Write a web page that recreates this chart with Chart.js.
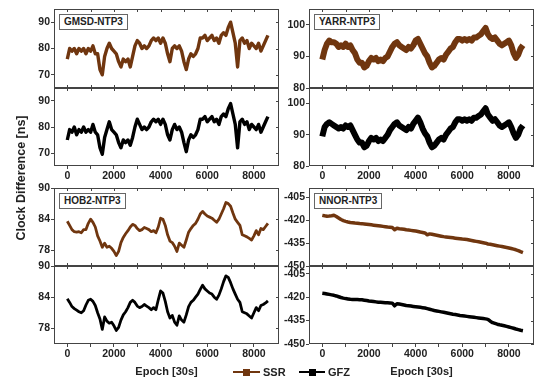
<!DOCTYPE html>
<html><head><meta charset="utf-8">
<script src="https://cdn.jsdelivr.net/npm/chart.js@4.4.1/dist/chart.umd.min.js"></script>
<style>
html,body{margin:0;padding:0;background:#fff;}
#wrap{position:relative;width:550px;height:388px;overflow:hidden;font-family:"Liberation Sans",Arial,sans-serif;}
canvas{position:absolute;}
.tag{position:absolute;border:1px solid #666;background:#fff;font:bold 10px "Liberation Sans",Arial,sans-serif;color:#222;line-height:14px;padding:0 4px;white-space:nowrap;}
.abs{position:absolute;}
.lt{position:absolute;font:bold 11px "Liberation Sans",Arial,sans-serif;color:#222;line-height:14px;white-space:nowrap;}
#ytitle{position:absolute;left:-78px;top:170px;width:200px;height:16px;line-height:16px;text-align:center;transform:rotate(-90deg);font:bold 12.5px "Liberation Sans",Arial,sans-serif;color:#222;white-space:nowrap;}
</style></head>
<body><div id="wrap">
<div id="ytitle">Clock Difference [ns]</div>
<div class="abs" style="left:233px;top:371px;width:27px;height:1.5px;background:#70360f"></div>
<div class="abs" style="left:243px;top:368.5px;width:7px;height:7px;background:#70360f"></div>
<div class="lt" style="left:263px;top:365px">SSR</div>
<div class="abs" style="left:299px;top:371px;width:26px;height:1.5px;background:#000"></div>
<div class="abs" style="left:308.5px;top:368.5px;width:7px;height:7px;background:#000"></div>
<div class="lt" style="left:328px;top:365px">GFZ</div>
</div>
<script>
const epochs = [0,100,200,300,400,500,600,700,800,900,
1000,1100,1200,1300,1400,1500,1600,1700,1800,1900,
2000,2100,2200,2300,2400,2500,2600,2700,2800,2900,
3000,3100,3200,3300,3400,3500,3600,3700,3800,3900,
4000,4100,4200,4300,4400,4500,4600,4700,4800,4900,
5000,5100,5200,5300,5400,5500,5600,5700,5800,5900,
6000,6100,6200,6300,6400,6500,6600,6700,6800,6900,
7000,7100,7200,7300,7400,7500,7600,7700,7800,7900,
8000,8100,8200,8300,8400,8500,8600];

const gmsdSSR = [76,80,79,80,78,80,79,80,78,80,
79,81,78,78,72,70,77,80,82,80,
79,78,75,73,76,75,76,73,77,81,
83,82,80,81,80,81,83,84,83,84,
82,84,82,78,75,80,81,80,81,79,
75,72,76,78,77,78,80,84,84,85,
83,84,85,83,84,82,85,86,85,88,
90,86,82,73,83,84,82,83,80,82,
81,80,82,79,81,83,85];
const gmsdGFZ = [75,79,78,80,77,79,78,80,78,79,
78,81,78,77,72,69.5,76,79,82,79,
78,77,74,72,75,74,75,73,76,80,
83,81,79,80,79,80,82,83,82,83,
81,83,81,77,75,79,81,79,80,78,
74,70.5,75,77,76,77,79,83,83,84,
82,83,84,82,83,81,84,85,84,87,
89,85,81,72,82,83,81,82,79,81,
80,79,81,78,80,82,84];
const yarrSSR = [89,92,94,95,94.5,94.5,94,93,93.5,93,
94,93,93.5,92,91,89,88,88,86.5,87,
88.5,89.5,89,89.5,88.5,89,88.5,89.5,90,91.5,
93,94,94.5,93.5,93,92.5,92,93,92.5,93.5,
95,95.5,94,92.5,91,90,88,86.5,87,88,
89,89.5,89,90.5,91.5,92.5,93,94.5,95.5,95.5,
95,95.5,95,95.5,95,96,96,96.5,97,98,
99,97,96,95.5,96,95,94,93.5,94,94.5,
95,93.5,91,89.5,90.5,92.5,93.5];
const yarrGFZ = [89.5,92.5,93.5,94,93.5,93,92.5,92,92.5,92,
93,92.5,93,91.5,90,88.5,87.5,87.5,86,86.5,
88,89,88.5,89,88,88.5,88,89,90,91.5,
92.5,93.5,94,93,92.5,92,91.5,92.5,92,93.5,
94.5,95.5,94,92,90.5,89.5,87.5,86,86.5,87.5,
88.5,89,88.5,90,91,92,92.5,94,95,95,
94.5,95,94.5,95,94.5,95.5,95.5,96,96.5,97.5,
98.5,96.5,95.5,94.5,95,94,93,92.5,93,93.5,
94,92.5,90.5,89,90,92,93];
const hob2SSR = [83.6,82.8,82.0,81.6,81.5,81.6,81.4,82.0,82.0,83.2,
84.0,83.4,82.5,80.8,79.8,78.6,79.4,78.6,78.8,78.4,
77.8,77.0,77.8,79.5,80.5,81.2,81.8,82.5,83.0,82.8,
82.2,81.8,82.0,82.4,82.2,82.0,81.6,81.8,81.4,82.5,
84.2,84.0,82.8,81.0,79.8,79.5,78.8,77.8,79.4,79.0,
78.6,80.0,81.5,82.2,82.8,83.2,84.0,85.0,85.5,85.0,
84.6,84.4,84.2,83.8,83.4,84.0,85.0,86.0,87.2,87.0,
86.5,85.2,84.0,83.4,82.8,81.0,80.8,80.6,80.3,80.0,
80.8,81.8,81.0,82.2,82.0,82.6,83.2];
const hob2GFZ = [83.7,83.0,82.2,81.8,81.5,81.2,81.0,81.4,82.5,83.4,
83.6,83.2,82.4,81.0,79.8,77.8,80.2,79.4,79.0,79.2,
78.5,77.6,78.2,79.6,80.6,81.2,82.0,83.0,83.4,83.0,
82.3,82.0,82.2,82.6,82.3,82.0,81.6,82.0,81.6,83.5,
85.2,84.8,83.2,81.2,80.0,80.5,79.2,78.6,80.4,79.6,
79.2,80.6,82.2,83.0,83.4,84.0,84.6,85.5,86.3,85.6,
85.2,84.8,84.6,84.0,83.6,84.4,85.6,87.0,88.1,87.8,
86.8,85.6,84.6,83.6,83.0,81.2,81.0,80.8,80.4,80.0,
81.0,82.0,81.4,82.4,82.6,82.9,83.3];
const nnorSSR = [-416.9,-417.2,-417.4,-417.3,-417.1,-416.8,-417.6,-418.6,-419.6,-420.3,
-420.8,-421.2,-421.5,-421.7,-421.9,-422.0,-422.2,-422.3,-422.5,-422.7,
-422.9,-423.1,-423.3,-423.5,-423.7,-423.9,-424.1,-424.3,-424.5,-424.6,
-424.8,-426.3,-425.3,-425.6,-425.8,-426.0,-426.3,-426.5,-426.7,-426.9,
-427.1,-427.4,-427.8,-428.1,-428.4,-429.6,-429.0,-429.3,-429.6,-429.9,
-430.2,-430.5,-430.8,-431.0,-431.2,-431.4,-431.6,-431.8,-432.0,-432.2,
-432.4,-432.5,-432.7,-433.0,-433.3,-433.6,-433.9,-434.2,-434.5,-434.8,
-435.1,-435.6,-435.8,-436.1,-436.4,-436.7,-437.0,-437.3,-437.6,-437.9,
-438.2,-438.6,-439.0,-439.4,-439.9,-440.6,-441.2];
const nnorGFZ = [-417.4,-417.6,-417.9,-418.2,-418.5,-418.8,-419.2,-419.7,-420.2,-420.6,
-420.9,-421.1,-421.3,-421.4,-421.5,-421.5,-421.6,-421.7,-421.9,-422.1,
-422.4,-422.6,-422.8,-423.0,-423.2,-423.3,-423.4,-423.5,-423.6,-423.7,
-423.8,-425.5,-424.2,-424.4,-424.7,-425.0,-425.3,-425.5,-425.7,-425.9,
-426.1,-426.3,-426.5,-426.7,-426.9,-427.3,-427.7,-428.1,-428.5,-428.8,
-429.1,-429.4,-429.7,-430.0,-430.3,-430.6,-430.9,-431.1,-431.4,-431.7,
-431.9,-432.1,-432.3,-432.5,-432.7,-432.9,-433.1,-433.3,-433.5,-433.7,
-433.9,-434.2,-435.4,-436.3,-436.8,-437.3,-437.7,-438.0,-438.3,-438.7,
-439.1,-439.5,-439.9,-440.4,-440.8,-441.2,-441.5];

const xTicks = [0,1000,2000,3000,4000,5000,6000,7000,8000];
const gmsdTicks = [70,80,90];
const yarrTicks = [80,90,100];
const hob2Ticks = [78,84,90];
const nnorTicks = [-405,-420,-435,-450];
const seriesNames = ['SSR','GFZ'];
const ssrColor = '#70360f', gfzColor = '#000000';

const wrap = document.getElementById('wrap');
const FONT = '"Liberation Sans", Arial, sans-serif';
const axisColor = '#444';
const textColor = '#222';

function framePlugin(lower){
  return {
    id:'frame',
    afterDraw(chart){
      const {ctx, chartArea:a, scales:{x, y}} = chart;
      ctx.save();
      ctx.strokeStyle = axisColor; ctx.lineWidth = 1;
      ctx.strokeRect(a.left+0.5, a.top+0.5, a.right-a.left-1, a.bottom-a.top-1);
      ctx.beginPath();
      x.ticks.forEach(t => {
        const px = Math.round(x.getPixelForValue(t.value)) + 0.5;
        ctx.moveTo(px, a.top); ctx.lineTo(px, a.top+3);
        if(!lower){ ctx.moveTo(px, a.bottom); ctx.lineTo(px, a.bottom-3); }
      });
      y.ticks.forEach(t => {
        const py = Math.round(y.getPixelForValue(t.value)) + 0.5;
        ctx.moveTo(a.right, py); ctx.lineTo(a.right-3, py);
      });
      ctx.stroke();
      ctx.restore();
    }
  };
}

function make(rect, series, name, color, lw, yMin, yMax, yTicks, lower, xTitle){
  const padL = 44, padT = 8, padR = 6;
  const xh = lower ? (xTitle ? 35 : 20) : 8;
  const w = rect.R - rect.L + padL + padR;
  const h = rect.B - rect.T + padT + xh;
  const cv = document.createElement('canvas');
  cv.width = w; cv.height = h;
  cv.style.left = (rect.L - padL) + 'px';
  cv.style.top = (rect.T - padT) + 'px';
  cv.style.width = w + 'px'; cv.style.height = h + 'px';
  wrap.insertBefore(cv, wrap.firstChild);
  new Chart(cv, {
    type: 'line',
    data: { datasets: [{ label: name, data: epochs.map((e,i) => ({x:e, y:series[i]})),
      borderColor: color, backgroundColor: color, borderWidth: lw, pointRadius: 0, tension: 0, fill: false,
      borderJoinStyle: 'round' }] },
    options: {
      responsive: false, animation: false, events: [],
      layout: { padding: { left: 0, top: padT, right: padR, bottom: 0 } },
      plugins: { legend: { display: false }, tooltip: { enabled: false } },
      scales: {
        x: {
          type: 'linear', min: -570, max: 9075,
          afterBuildTicks: s => { s.ticks = xTicks.map(v => ({value: v})); },
          afterFit: s => { s.height = xh; },
          ticks: { display: lower, autoSkip: false, maxRotation: 0, padding: 1, color: textColor,
                   font: { family: FONT, size: 10.5, weight: 'bold' },
                   callback: v => (v % 2000 === 0 ? String(v) : '') },
          grid: { display: lower, drawOnChartArea: false, drawTicks: true, tickLength: 3, color: axisColor },
          border: { display: false },
          title: { display: !!xTitle, text: xTitle || '', color: textColor, padding: { top: 0, bottom: 0 },
                   font: { family: FONT, size: 11, weight: 'bold' } }
        },
        y: {
          min: yMin, max: yMax,
          afterBuildTicks: s => { s.ticks = yTicks.map(v => ({value: v})); },
          afterFit: s => { s.width = padL; },
          ticks: { padding: 1, color: textColor, font: { family: FONT, size: 10.5, weight: 'bold' },
                   callback: v => String(v) },
          grid: { drawOnChartArea: false, drawTicks: true, tickLength: 3, color: axisColor },
          border: { display: false }
        }
      }
    },
    plugins: [framePlugin(lower)]
  });
}

function tag(text, rect){
  const d = document.createElement('div');
  d.className = 'tag'; d.textContent = text;
  d.style.left = (rect.L + 5) + 'px'; d.style.top = (rect.T + 5) + 'px';
  wrap.appendChild(d);
}

const LL = 54, LR = 279, RL = 309, RR = 534;
const r1U = {T:9, B:88}, r1D = {T:88, B:166}, r2U = {T:188, B:266}, r2D = {T:266, B:344};
const R = (c, r) => ({L: c[0], R: c[1], T: r.T, B: r.B});
const left = [LL, LR], right = [RL, RR];

make(R(left, r1U), gmsdSSR, seriesNames[0], ssrColor, 3.4, 65, 95, gmsdTicks, false, null);
make(R(left, r1D), gmsdGFZ, seriesNames[1], gfzColor, 3.4, 65, 95, gmsdTicks, true, null);
make(R(right, r1U), yarrSSR, seriesNames[0], ssrColor, 6, 80, 105, yarrTicks, false, null);
make(R(right, r1D), yarrGFZ, seriesNames[1], gfzColor, 6, 80, 105, yarrTicks, true, null);
make(R(left, r2U), hob2SSR, seriesNames[0], ssrColor, 2.8, 75, 90, hob2Ticks, false, null);
make(R(left, r2D), hob2GFZ, seriesNames[1], gfzColor, 2.8, 75, 90, hob2Ticks, true, 'Epoch [30s]');
make(R(right, r2U), nnorSSR, seriesNames[0], ssrColor, 3.5, -450, -399, nnorTicks, false, null);
make(R(right, r2D), nnorGFZ, seriesNames[1], gfzColor, 3.5, -450, -400, nnorTicks, true, 'Epoch [30s]');

tag('GMSD-NTP3', R(left, r1U));
tag('YARR-NTP3', R(right, r1U));
tag('HOB2-NTP3', R(left, r2U));
tag('NNOR-NTP3', R(right, r2U));
</script>
</body></html>
